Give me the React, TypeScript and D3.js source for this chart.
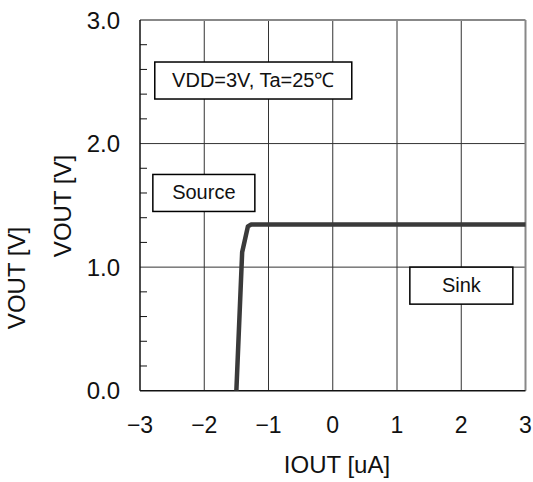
import React from "react";
import * as d3 from "d3";

// IOUT [uA] vs VOUT [V]
const iout = [-1.5, -1.41, -1.32, -1.27, 3];
const vout = [0, 1.12, 1.33, 1.345, 1.345];
const xTicks = [-3, -2, -1, 0, 1, 2, 3];
const yTicks = [0, 1, 2, 3];
const yMinor = [0.2, 0.4, 0.6, 0.8, 1.2, 1.4, 1.6, 1.8, 2.2, 2.4, 2.6, 2.8];
const notes = [
  { text: "VDD=3V, Ta=25℃", x: -2.77, y: 2.66, w: 197 },
  { text: "Source", x: -2.8, y: 1.75, w: 102 },
  { text: "Sink", x: 1.2, y: 1.0, w: 103 },
];

const W = 533;
const H = 482;
const m = { left: 140, right: 7.5, top: 20, bottom: 91.3 };

export default function App() {
  const x = d3.scaleLinear().domain([-3, 3]).range([m.left, W - m.right]);
  const y = d3.scaleLinear().domain([0, 3]).range([H - m.bottom, m.top]);
  const pts = iout.map((v, i) => [v, vout[i]] as [number, number]);
  const line = d3
    .line<[number, number]>()
    .x((d) => x(d[0]))
    .y((d) => y(d[1]));

  const font = "'Liberation Sans', Arial, sans-serif";

  return (
    <svg
      width={W}
      height={H}
      style={{ position: "absolute", left: 0, top: 0, background: "#fff" }}
      fontFamily={font}
    >
      {/* grid */}
      {xTicks.slice(1, -1).map((t) => (
        <line key={"gx" + t} x1={x(t)} x2={x(t)} y1={y(0)} y2={y(3)} stroke="#333" strokeWidth={1} />
      ))}
      {yTicks.slice(1, -1).map((t) => (
        <line key={"gy" + t} x1={x(-3)} x2={x(3)} y1={y(t)} y2={y(t)} stroke="#333" strokeWidth={1} />
      ))}
      {/* frame */}
      <line x1={x(-3)} x2={x(3)} y1={y(3)} y2={y(3)} stroke="#888" strokeWidth={2} />
      <line x1={x(3)} x2={x(3)} y1={y(0)} y2={y(3)} stroke="#888" strokeWidth={2} />
      <line x1={x(-3)} x2={x(-3)} y1={y(0)} y2={y(3)} stroke="#111" strokeWidth={1.5} />
      <line x1={x(-3)} x2={x(3)} y1={y(0)} y2={y(0)} stroke="#111" strokeWidth={1.5} />
      {yMinor.map((t) => (
        <line key={"mt" + t} x1={x(-3)} x2={x(-3) + 7} y1={y(t)} y2={y(t)} stroke="#111" strokeWidth={1} />
      ))}

      {/* notes */}
      {notes.map((n) => (
        <g key={n.text}>
          <rect x={x(n.x)} y={y(n.y)} width={n.w} height={37} fill="#fff" stroke="#000" strokeWidth={1.5} />
          <text x={x(n.x) + n.w / 2} y={y(n.y) + 25} textAnchor="middle" fontSize={20} fill="#111">
            {n.text}
          </text>
        </g>
      ))}

      {/* curve */}
      <path d={line(pts) ?? ""} fill="none" stroke="#3a3a3a" strokeWidth={4.5} strokeLinejoin="round" />

      {/* tick labels */}
      {yTicks.map((t) => (
        <text key={"yl" + t} x={120} y={y(t) + 8.5} textAnchor="end" fontSize={24} fill="#111">
          {t.toFixed(1)}
        </text>
      ))}
      {xTicks.map((t) => (
        <text key={"xl" + t} x={x(t)} y={433} textAnchor="middle" fontSize={23} fill="#111">
          {t < 0 ? "\u2212" + Math.abs(t) : String(t)}
        </text>
      ))}

      {/* axis titles */}
      <text x={337} y={473} textAnchor="middle" fontSize={24} fill="#111">
        IOUT [uA]
      </text>
      <text transform="translate(71,206) rotate(-90)" textAnchor="middle" fontSize={24} fill="#111">
        VOUT [V]
      </text>
      <text transform="translate(25,278) rotate(-90)" textAnchor="middle" fontSize={24} fill="#111">
        VOUT [V]
      </text>
    </svg>
  );
}
